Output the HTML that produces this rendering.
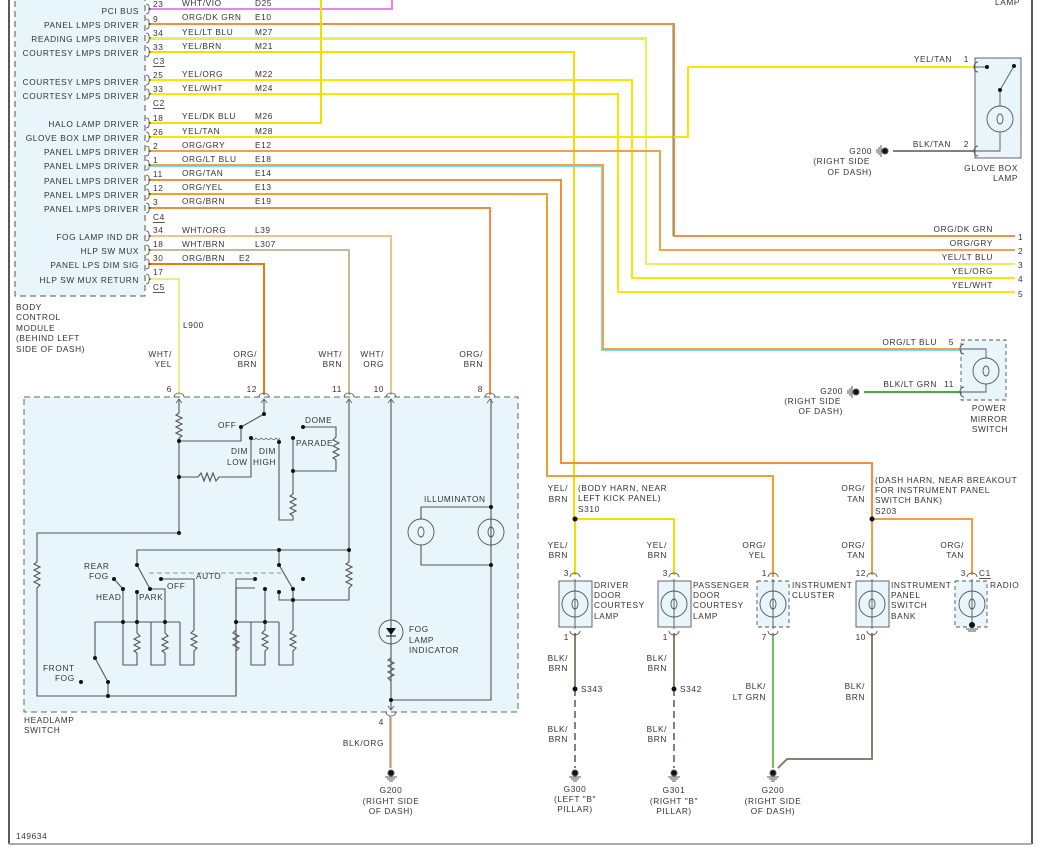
<!DOCTYPE html>
<html><head><meta charset="utf-8"><style>
html,body{margin:0;padding:0;background:#fff;}
svg{display:block;}
text{font-family:"Liberation Sans",sans-serif;font-size:8.3px;fill:#333;letter-spacing:0.6px;dominant-baseline:central;}
.r{text-anchor:end;}
.m{text-anchor:middle;}
</style></head><body>
<svg width="1039" height="847" viewBox="0 0 1039 847" xmlns="http://www.w3.org/2000/svg">
<rect width="1039" height="847" fill="#fff"/>
<!-- frame -->
<line x1="9" y1="0" x2="9" y2="844" stroke="#222" stroke-width="1.5"/>
<line x1="1032" y1="0" x2="1032" y2="844" stroke="#222" stroke-width="1.5"/>
<line x1="9" y1="844" x2="1032" y2="844" stroke="#aaa" stroke-width="2"/>

<!-- BCM box -->
<rect x="15" y="-5" width="130" height="301" fill="#e8f5fb" stroke="#555" stroke-dasharray="6,4"/>

<!-- Wires from BCM -->
<g fill="none" stroke-width="2">
<polyline points="148,9 392,9 392,0" stroke="#f080f0"/>
<polyline points="148,24 674,24 674,236 1015,236" stroke="#f09040"/>
<polyline points="148,38 646,38 646,264 1015,264" stroke="#e8f060"/>
<polyline points="148,52 574,52 574,519" stroke="#f0e000"/>
<polyline points="148,80 632,80 632,278 1015,278" stroke="#f8e800"/>
<polyline points="148,94 618,94 618,292 1015,292" stroke="#f8e800"/>
<polyline points="148,123 321,123 321,0" stroke="#f0e000"/>
<polyline points="148,137 688,137 688,67 975,67" stroke="#f8e800"/>
<polyline points="148,151 660,151 660,250 1015,250" stroke="#f0a050"/>
<polyline points="148,165 603,165 603,349 961,349" stroke="#f0a050"/>
<polyline points="148,180 561,180 561,463 872,463 872,519" stroke="#f09038"/>
<polyline points="148,194 547,194 547,476 773,476 773,577" stroke="#f0a030"/>
<polyline points="148,208 490,208 490,395" stroke="#e89040"/>
<polyline points="148,236 391,236 391,395" stroke="#f5c090"/>
<polyline points="148,250 349,250 349,395" stroke="#c8b8a0"/>
<polyline points="148,264 264,264 264,395" stroke="#f07810"/>
<polyline points="148,279 179,279 179,395" stroke="#f0e890"/>
</g>
<g fill="none" stroke-width="1">
<polyline points="150,166.5 601.5,166.5 601.5,350.5 961,350.5" stroke="#70e0e0"/>
<polyline points="150,39.5 644.5,39.5" stroke="#a0f0f0"/>
<line x1="673" y1="25" x2="673" y2="236" stroke="#6a9060"/>
</g>

<!-- BCM pin brackets -->
<g fill="none" stroke="#444" stroke-width="0.8">
<path d="M146,4 q3,0 3,3 q0,2 2,2 q-2,0 -2,2 q0,3 -3,3"/>
<path d="M146,19 q3,0 3,3 q0,2 2,2 q-2,0 -2,2 q0,3 -3,3"/>
<path d="M146,33 q3,0 3,3 q0,2 2,2 q-2,0 -2,2 q0,3 -3,3"/>
<path d="M146,47 q3,0 3,3 q0,2 2,2 q-2,0 -2,2 q0,3 -3,3"/>
<path d="M146,75 q3,0 3,3 q0,2 2,2 q-2,0 -2,2 q0,3 -3,3"/>
<path d="M146,89 q3,0 3,3 q0,2 2,2 q-2,0 -2,2 q0,3 -3,3"/>
<path d="M146,118 q3,0 3,3 q0,2 2,2 q-2,0 -2,2 q0,3 -3,3"/>
<path d="M146,132 q3,0 3,3 q0,2 2,2 q-2,0 -2,2 q0,3 -3,3"/>
<path d="M146,146 q3,0 3,3 q0,2 2,2 q-2,0 -2,2 q0,3 -3,3"/>
<path d="M146,160 q3,0 3,3 q0,2 2,2 q-2,0 -2,2 q0,3 -3,3"/>
<path d="M146,175 q3,0 3,3 q0,2 2,2 q-2,0 -2,2 q0,3 -3,3"/>
<path d="M146,189 q3,0 3,3 q0,2 2,2 q-2,0 -2,2 q0,3 -3,3"/>
<path d="M146,203 q3,0 3,3 q0,2 2,2 q-2,0 -2,2 q0,3 -3,3"/>
<path d="M146,231 q3,0 3,3 q0,2 2,2 q-2,0 -2,2 q0,3 -3,3"/>
<path d="M146,245 q3,0 3,3 q0,2 2,2 q-2,0 -2,2 q0,3 -3,3"/>
<path d="M146,259 q3,0 3,3 q0,2 2,2 q-2,0 -2,2 q0,3 -3,3"/>
<path d="M146,274 q3,0 3,3 q0,2 2,2 q-2,0 -2,2 q0,3 -3,3"/>
</g>

<!-- BCM labels -->
<g class="r">
<text x="139" y="11" class="r">PCI BUS</text>
<text x="139" y="25" class="r">PANEL LMPS DRIVER</text>
<text x="139" y="39" class="r">READING LMPS DRIVER</text>
<text x="139" y="53" class="r">COURTESY LMPS DRIVER</text>
<text x="139" y="82" class="r">COURTESY LMPS DRIVER</text>
<text x="139" y="96" class="r">COURTESY LMPS DRIVER</text>
<text x="139" y="124" class="r">HALO LAMP DRIVER</text>
<text x="139" y="138" class="r">GLOVE BOX LMP DRIVER</text>
<text x="139" y="152" class="r">PANEL LMPS DRIVER</text>
<text x="139" y="166" class="r">PANEL LMPS DRIVER</text>
<text x="139" y="181" class="r">PANEL LMPS DRIVER</text>
<text x="139" y="195" class="r">PANEL LMPS DRIVER</text>
<text x="139" y="209" class="r">PANEL LMPS DRIVER</text>
<text x="139" y="237" class="r">FOG LAMP IND DR</text>
<text x="139" y="251" class="r">HLP SW MUX</text>
<text x="139" y="265" class="r">PANEL LPS DIM SIG</text>
<text x="139" y="280" class="r">HLP SW MUX RETURN</text>
</g>
<g>
<text x="153" y="4">23</text><text x="182" y="3">WHT/VIO</text><text x="255" y="3">D25</text>
<text x="153" y="19">9</text><text x="182" y="17">ORG/DK GRN</text><text x="255" y="17">E10</text>
<text x="153" y="33">34</text><text x="182" y="32">YEL/LT BLU</text><text x="255" y="32">M27</text>
<text x="153" y="47">33</text><text x="182" y="46">YEL/BRN</text><text x="255" y="46">M21</text>
<text x="153" y="61" text-decoration="underline">C3</text>
<text x="153" y="75">25</text><text x="182" y="74">YEL/ORG</text><text x="255" y="74">M22</text>
<text x="153" y="89">33</text><text x="182" y="88">YEL/WHT</text><text x="255" y="88">M24</text>
<text x="153" y="103" text-decoration="underline">C2</text>
<text x="153" y="118">18</text><text x="182" y="116">YEL/DK BLU</text><text x="255" y="116">M26</text>
<text x="153" y="132">26</text><text x="182" y="131">YEL/TAN</text><text x="255" y="131">M28</text>
<text x="153" y="146">2</text><text x="182" y="145">ORG/GRY</text><text x="255" y="145">E12</text>
<text x="153" y="160">1</text><text x="182" y="159">ORG/LT BLU</text><text x="255" y="159">E18</text>
<text x="153" y="174">11</text><text x="182" y="173">ORG/TAN</text><text x="255" y="173">E14</text>
<text x="153" y="188">12</text><text x="182" y="187">ORG/YEL</text><text x="255" y="187">E13</text>
<text x="153" y="202">3</text><text x="182" y="201">ORG/BRN</text><text x="255" y="201">E19</text>
<text x="153" y="217" text-decoration="underline">C4</text>
<text x="153" y="230">34</text><text x="182" y="230">WHT/ORG</text><text x="255" y="230">L39</text>
<text x="153" y="244">18</text><text x="182" y="244">WHT/BRN</text><text x="255" y="244">L307</text>
<text x="153" y="258">30</text><text x="182" y="258">ORG/BRN</text><text x="239" y="258">E2</text>
<text x="153" y="272">17</text>
<text x="153" y="287" text-decoration="underline">C5</text>
<text x="16" y="307">BODY</text><text x="16" y="317">CONTROL</text><text x="16" y="328">MODULE</text><text x="16" y="338">(BEHIND LEFT</text><text x="16" y="349">SIDE OF DASH)</text>
<text x="183" y="325">L900</text>
<text x="172" y="354" class="r">WHT/</text><text x="172" y="364" class="r">YEL</text>
<text x="257" y="354" class="r">ORG/</text><text x="257" y="364" class="r">BRN</text>
<text x="342" y="354" class="r">WHT/</text><text x="342" y="364" class="r">BRN</text>
<text x="384" y="354" class="r">WHT/</text><text x="384" y="364" class="r">ORG</text>
<text x="483" y="354" class="r">ORG/</text><text x="483" y="364" class="r">BRN</text>
<text x="172" y="389" class="r">6</text><text x="257" y="389" class="r">12</text><text x="342" y="389" class="r">11</text><text x="384" y="389" class="r">10</text><text x="483" y="389" class="r">8</text>
</g>

<!-- Headlamp switch box -->
<rect x="24" y="397" width="494" height="315" fill="#e8f5fb" stroke="#666" stroke-dasharray="6,4"/>
<text x="24" y="720">HEADLAMP</text><text x="24" y="730">SWITCH</text>
<g fill="none" stroke="#555" stroke-width="0.8">
<path d="M174,397 a5,4 0 0 1 10,0"/><path d="M259,397 a5,4 0 0 1 10,0"/><path d="M344,397 a5,4 0 0 1 10,0"/><path d="M386,397 a5,4 0 0 1 10,0"/><path d="M485,397 a5,4 0 0 1 10,0"/>
<path d="M386,712 a5,4 0 0 0 10,0"/>
<path d="M176,403 l3,-4 l3,4 M261,403 l3,-4 l3,4 M346,403 l3,-4 l3,4 M388,403 l3,-4 l3,4 M487,403 l3,-4 l3,4 M388,706 l3,4 l3,-4"/>
</g>
<!-- internal circuit -->
<g fill="none" stroke="#555" stroke-width="1.1">
<polyline points="179,399 179,413 176,415 182,418 176,421 182,424 176,427 182,430 176,433 182,436 179,438 179,533 37,533 37,562 34,564 40,567 34,570 40,573 34,576 40,579 34,582 40,585 37,588 37,696 236,696 236,588 255,588"/>
<polyline points="179,441 241,441 241,427 264,414 264,399"/>
<polyline points="179,477 198,477 201,473 204,481 207,473 210,481 213,473 216,481 219,477 251,477 251,438"/>
<path d="M251,438 q3,3 5,0 q3,3 5,0 q3,3 5,0 q3,3 5,0 q3,3 5,0 q3,3 4,0" stroke-width="0.7"/>
<polyline points="279,442 279,520 293,520 293,516 290,514 296,511 290,508 296,505 290,502 296,499 290,496 293,494 293,438"/>
<polyline points="293,471 336,471 336,460 333,458 339,455 333,452 339,449 333,446 339,443 333,440 336,437 336,427 303,427"/>
<polyline points="349,399 349,550 137,550 137,565 150,589 165,589 165,622"/>
<polyline points="349,550 349,562 346,564 352,567 346,570 352,573 346,576 352,579 346,582 352,585 349,588 349,600 279,600 279,592"/>
<polyline points="279,550 279,565 293,589 293,600"/>
<polyline points="95,658 108,682 108,696"/>
<polyline points="95,658 95,622 180,622"/>
<polyline points="114,579 123,589 123,665 137,665 137,653 134,651 140,648 134,645 140,642 134,639 140,636 137,633 137,592"/>
<polyline points="151,622 151,665 165,665 165,653 162,651 168,648 162,645 168,642 162,639 168,636 165,633 165,622"/>
<polyline points="161,579 194,579 194,630 191,633 197,636 191,639 197,642 191,645 197,648 194,651 194,665 180,665 180,622"/>
<polyline points="236,588 236,630 233,633 239,636 233,639 239,642 233,645 239,648 236,651 236,696"/>
<polyline points="236,622 279,622"/>
<polyline points="265,589 265,630 262,633 268,636 262,639 268,642 262,645 268,648 265,651 265,665 251,665 251,622"/>
<polyline points="293,600 293,630 290,633 296,636 290,639 296,642 290,645 296,648 293,651 293,665 279,665 279,622"/>
<polyline points="391,399 391,710"/>
<polyline points="391,658 388,660 394,663 388,666 394,669 388,672 394,675 388,678 391,681"/>
<polyline points="391,700 491,700 491,399"/>
<polyline points="421,519 421,507 491,507"/>
<polyline points="421,545 421,565 491,565"/>
</g>
<line x1="149" y1="573" x2="281" y2="573" stroke="#777" stroke-width="0.8" stroke-dasharray="5,3"/>
<g fill="#111">
<circle cx="179" cy="441" r="2"/><circle cx="179" cy="477" r="2"/><circle cx="179" cy="533" r="2"/>
<circle cx="241" cy="427" r="2"/><circle cx="264" cy="414" r="2"/><circle cx="251" cy="438" r="2"/><circle cx="279" cy="442" r="2"/>
<circle cx="293" cy="438" r="2"/><circle cx="293" cy="471" r="2"/><circle cx="303" cy="427" r="2"/>
<circle cx="349" cy="550" r="2"/><circle cx="279" cy="550" r="2"/><circle cx="137" cy="565" r="2"/><circle cx="150" cy="589" r="2"/>
<circle cx="279" cy="565" r="2"/><circle cx="293" cy="589" r="2"/><circle cx="293" cy="600" r="2"/><circle cx="279" cy="592" r="2"/>
<circle cx="114" cy="579" r="2"/><circle cx="123" cy="589" r="2"/><circle cx="137" cy="592" r="2"/><circle cx="161" cy="579" r="2"/>
<circle cx="255" cy="579" r="2"/><circle cx="303" cy="579" r="2"/><circle cx="265" cy="589" r="2"/>
<circle cx="123" cy="622" r="2"/><circle cx="137" cy="622" r="2"/><circle cx="165" cy="622" r="2"/><circle cx="236" cy="622" r="2"/><circle cx="265" cy="622" r="2"/>
<circle cx="81" cy="682" r="2"/><circle cx="95" cy="658" r="2"/><circle cx="108" cy="682" r="2"/><circle cx="108" cy="696" r="2"/>
<circle cx="391" cy="700" r="2"/><circle cx="491" cy="507" r="2"/><circle cx="491" cy="565" r="2"/>
</g>
<polyline points="236,588 236,579 255,579" fill="none" stroke="#555" stroke-width="1.1"/>
<!-- lamps in headlamp switch -->
<g fill="none" stroke="#555" stroke-width="0.9">
<circle cx="421" cy="532" r="13"/><circle cx="491" cy="532" r="13"/>
<ellipse cx="421" cy="532" rx="3" ry="5"/><ellipse cx="491" cy="532" rx="3" ry="5"/>
<circle cx="391" cy="632" r="12"/>
</g>
<path d="M386,628 l10,0 l-5,7 z" fill="#111"/><line x1="386" y1="636" x2="396" y2="636" stroke="#111"/>
<g>
<text x="218" y="425">OFF</text>
<text x="231" y="451">DIM</text><text x="227" y="462">LOW</text>
<text x="259" y="451">DIM</text><text x="253" y="462">HIGH</text>
<text x="305" y="420">DOME</text><text x="296" y="443">PARADE</text>
<text x="84" y="566">REAR</text><text x="89" y="576">FOG</text>
<text x="96" y="597">HEAD</text><text x="139" y="597">PARK</text>
<text x="167" y="586">OFF</text><text x="196" y="576">AUTO</text>
<text x="43" y="668">FRONT</text><text x="55" y="678">FOG</text>
<text x="424" y="499">ILLUMINATON</text>
<text x="409" y="629">FOG</text><text x="409" y="640">LAMP</text><text x="409" y="650">INDICATOR</text>
</g>
<!-- pin 4 to ground -->
<line x1="391" y1="716" x2="391" y2="768" stroke="#f0c090" stroke-width="2"/>
<line x1="390" y1="716" x2="390" y2="768" stroke="#666" stroke-width="0.8"/>
<text x="384" y="722" class="r">4</text>
<text x="384" y="743" class="r">BLK/ORG</text>
<text x="391" y="790" class="m">G200</text><text x="391" y="801" class="m">(RIGHT SIDE</text><text x="391" y="811" class="m">OF DASH)</text>
<text x="16" y="836">149634</text>

<!-- grounds -->
<g stroke="#555" stroke-width="1">
<circle cx="391" cy="773" r="3" fill="#111"/><path d="M385,777 h12 M387,779 h8 M389,781 h4"/>
<circle cx="575" cy="773" r="3" fill="#111"/><path d="M569,777 h12 M571,779 h8 M573,781 h4"/>
<circle cx="674" cy="773" r="3" fill="#111"/><path d="M668,777 h12 M670,779 h8 M672,781 h4"/>
<circle cx="773" cy="773" r="3" fill="#111"/><path d="M767,777 h12 M769,779 h8 M771,781 h4"/>
<circle cx="885" cy="151" r="3" fill="#111"/><path d="M881,145 v12 M879,147 v8 M877,149 v4"/>
<circle cx="856" cy="392" r="3" fill="#111"/><path d="M852,386 v12 M850,388 v8 M848,390 v4"/>
</g>

<!-- bottom right components -->
<g fill="none" stroke-width="2">
<polyline points="575,519 674,519 674,575" stroke="#f0e000"/>
<line x1="575" y1="519" x2="575" y2="575" stroke="#f0e000"/>
<polyline points="872,519 972,519 972,575" stroke="#f0a040"/>
<line x1="872" y1="519" x2="872" y2="575" stroke="#f0a040"/>
<line x1="773" y1="633" x2="773" y2="768" stroke="#70c060"/>
<polyline points="872,633 872,759 787,759 778,768" stroke="#8a8070"/>
<line x1="575" y1="633" x2="575" y2="689" stroke="#8a8070"/>
<line x1="674" y1="633" x2="674" y2="689" stroke="#8a8070"/>
<line x1="575" y1="689" x2="575" y2="768" stroke="#8a8070" stroke-dasharray="7,4"/>
<line x1="674" y1="689" x2="674" y2="768" stroke="#8a8070" stroke-dasharray="7,4"/>
<line x1="893" y1="151" x2="975" y2="151" stroke="#8a8070"/>
<line x1="864" y1="392" x2="961" y2="392" stroke="#40b040"/>
</g>
<g fill="#111"><circle cx="575" cy="519" r="2.5"/><circle cx="872" cy="519" r="2.5"/><circle cx="575" cy="689" r="2.5"/><circle cx="674" cy="689" r="2.5"/></g>
<g stroke="#555" stroke-width="0.9" fill="#e8f5fb">
<rect x="559" y="581" width="33" height="46"/>
<rect x="658" y="581" width="33" height="46"/>
<rect x="757" y="581" width="32" height="46" stroke-dasharray="4,3"/>
<rect x="856" y="581" width="33" height="46"/>
<rect x="955" y="581" width="32" height="46" stroke-dasharray="4,3"/>
<rect x="975" y="58" width="46" height="100"/>
<rect x="961" y="340" width="45" height="60" stroke-dasharray="4,3"/>
</g>
<g fill="none" stroke="#555" stroke-width="0.9">
<circle cx="575" cy="604" r="13"/><ellipse cx="575" cy="604" rx="3" ry="5"/><line x1="575" y1="579" x2="575" y2="629"/>
<circle cx="674" cy="604" r="13"/><ellipse cx="674" cy="604" rx="3" ry="5"/><line x1="674" y1="579" x2="674" y2="629"/>
<circle cx="773" cy="604" r="13"/><ellipse cx="773" cy="604" rx="3" ry="5"/><line x1="773" y1="579" x2="773" y2="629"/>
<circle cx="872" cy="604" r="13"/><ellipse cx="872" cy="604" rx="3" ry="5"/><line x1="872" y1="579" x2="872" y2="629"/>
<circle cx="972" cy="604" r="13"/><ellipse cx="972" cy="604" rx="3" ry="5"/><line x1="972" y1="579" x2="972" y2="625"/>
<circle cx="1000" cy="119" r="13"/><ellipse cx="1000" cy="119" rx="3" ry="5"/>
<polyline points="975,67 987,67"/><polyline points="1000,90 1014,66"/><polyline points="1000,90 1000,106"/><polyline points="1000,132 1000,151 975,151"/>
<circle cx="986" cy="371" r="13"/><ellipse cx="986" cy="371" rx="3" ry="5"/>
<polyline points="961,349 986,349 986,358"/><polyline points="986,384 986,392 961,392"/>
<path d="M570,577 a5,4 0 0 1 10,0 M669,577 a5,4 0 0 1 10,0 M768,577 a5,4 0 0 1 10,0 M867,577 a5,4 0 0 1 10,0 M967,577 a5,4 0 0 1 10,0"/>
<path d="M570,631 a5,4 0 0 0 10,0 M669,631 a5,4 0 0 0 10,0 M768,631 a5,4 0 0 0 10,0 M867,631 a5,4 0 0 0 10,0"/>
<path d="M978,62 a4,5 0 0 0 0,10 M978,146 a4,5 0 0 0 0,10 M964,344 a4,5 0 0 0 0,10 M964,387 a4,5 0 0 0 0,10"/>
</g>
<g fill="#111"><circle cx="987" cy="67" r="2"/><circle cx="1014" cy="66" r="2"/><circle cx="1000" cy="90" r="2"/><circle cx="972" cy="625" r="3"/></g>
<path d="M966,629 h12 M968,631 h8" stroke="#555"/>

<g>
<text x="568" y="488" class="r">YEL/</text><text x="568" y="499" class="r">BRN</text>
<text x="578" y="488">(BODY HARN, NEAR</text><text x="578" y="498">LEFT KICK PANEL)</text><text x="578" y="509">S310</text>
<text x="568" y="545" class="r">YEL/</text><text x="568" y="555" class="r">BRN</text>
<text x="667" y="545" class="r">YEL/</text><text x="667" y="555" class="r">BRN</text>
<text x="766" y="545" class="r">ORG/</text><text x="766" y="555" class="r">YEL</text>
<text x="865" y="488" class="r">ORG/</text><text x="865" y="499" class="r">TAN</text>
<text x="875" y="480">(DASH HARN, NEAR BREAKOUT</text><text x="875" y="490">FOR INSTRUMENT PANEL</text><text x="875" y="500">SWITCH BANK)</text><text x="875" y="511">S203</text>
<text x="865" y="545" class="r">ORG/</text><text x="865" y="555" class="r">TAN</text>
<text x="964" y="545" class="r">ORG/</text><text x="964" y="555" class="r">TAN</text>
<text x="569" y="573" class="r">3</text><text x="668" y="573" class="r">3</text><text x="767" y="573" class="r">1</text><text x="866" y="573" class="r">12</text><text x="966" y="573" class="r">3</text>
<text x="979" y="573" text-decoration="underline">C1</text>
<text x="569" y="637" class="r">1</text><text x="668" y="637" class="r">1</text><text x="767" y="637" class="r">7</text><text x="866" y="637" class="r">10</text>
<text x="594" y="585">DRIVER</text><text x="594" y="595">DOOR</text><text x="594" y="605">COURTESY</text><text x="594" y="616">LAMP</text>
<text x="693" y="585">PASSENGER</text><text x="693" y="595">DOOR</text><text x="693" y="605">COURTESY</text><text x="693" y="616">LAMP</text>
<text x="792" y="585">INSTRUMENT</text><text x="792" y="595">CLUSTER</text>
<text x="891" y="585">INSTRUMENT</text><text x="891" y="595">PANEL</text><text x="891" y="605">SWITCH</text><text x="891" y="616">BANK</text>
<text x="990" y="585">RADIO</text>
<text x="568" y="658" class="r">BLK/</text><text x="568" y="668" class="r">BRN</text>
<text x="667" y="658" class="r">BLK/</text><text x="667" y="668" class="r">BRN</text>
<text x="581" y="689">S343</text><text x="680" y="689">S342</text>
<text x="568" y="729" class="r">BLK/</text><text x="568" y="739" class="r">BRN</text>
<text x="667" y="729" class="r">BLK/</text><text x="667" y="739" class="r">BRN</text>
<text x="766" y="686" class="r">BLK/</text><text x="766" y="697" class="r">LT GRN</text>
<text x="865" y="686" class="r">BLK/</text><text x="865" y="697" class="r">BRN</text>
<text x="575" y="789" class="m">G300</text><text x="575" y="799" class="m">(LEFT "B"</text><text x="575" y="809" class="m">PILLAR)</text>
<text x="674" y="790" class="m">G301</text><text x="674" y="801" class="m">(RIGHT "B"</text><text x="674" y="811" class="m">PILLAR)</text>
<text x="773" y="790" class="m">G200</text><text x="773" y="801" class="m">(RIGHT SIDE</text><text x="773" y="811" class="m">OF DASH)</text>
<!-- top right -->
<text x="1020" y="2" class="r">LAMP</text>
<text x="952" y="59" class="r">YEL/TAN</text><text x="969" y="59" class="r">1</text>
<text x="951" y="144" class="r">BLK/TAN</text><text x="969" y="144" class="r">2</text>
<text x="872" y="151" class="r">G200</text><text x="870" y="161" class="r">(RIGHT SIDE</text><text x="872" y="172" class="r">OF DASH)</text>
<text x="1018" y="168" class="r">GLOVE BOX</text><text x="1018" y="178" class="r">LAMP</text>
<text x="993" y="229" class="r">ORG/DK GRN</text><text x="993" y="243" class="r">ORG/GRY</text><text x="993" y="257" class="r">YEL/LT BLU</text><text x="993" y="271" class="r">YEL/ORG</text><text x="993" y="285" class="r">YEL/WHT</text>
<text x="1018" y="237">1</text><text x="1018" y="251">2</text><text x="1018" y="265">3</text><text x="1018" y="279">4</text><text x="1018" y="294">5</text>
<text x="937" y="342" class="r">ORG/LT BLU</text><text x="954" y="342" class="r">5</text>
<text x="937" y="384" class="r">BLK/LT GRN</text><text x="954" y="384" class="r">11</text>
<text x="843" y="391" class="r">G200</text><text x="841" y="401" class="r">(RIGHT SIDE</text><text x="843" y="411" class="r">OF DASH)</text>
<text x="989" y="408" class="m">POWER</text><text x="989" y="419" class="m">MIRROR</text><text x="990" y="429" class="m">SWITCH</text>
</g>
</svg>
</body></html>
